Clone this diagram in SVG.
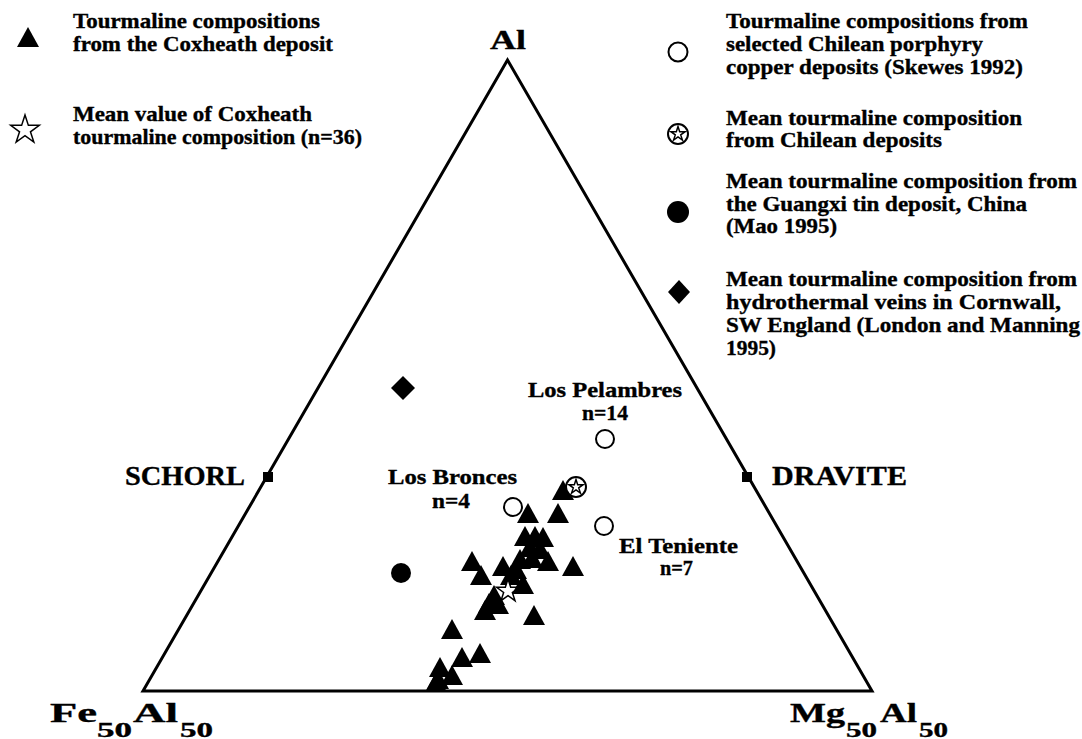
<svg xmlns="http://www.w3.org/2000/svg" xmlns:xlink="http://www.w3.org/1999/xlink" width="1082" height="739" viewBox="0 0 1082 739">
<style>
text{font-family:"Liberation Serif","Times New Roman",serif;font-weight:bold;fill:#000;stroke:#000;stroke-width:0.35}
.lg{font-size:21px}
.lb{font-size:21px}
.ax{font-size:28px}
.mn{font-size:27px}
.sb{font-size:20px}
.frame{fill:none;stroke:#000;stroke-width:3;stroke-linejoin:miter}
.open{fill:#fff;stroke:#000;stroke-width:2}
.solid{fill:#000}
.star{fill:#fff;stroke:#000;stroke-width:1.5;stroke-linejoin:miter}
</style>
<defs>
<path id="tri" d="M0,0 L11,20 L-11,20 Z" fill="#000"/>
<path id="star15" d="M0,-15 L3.37,-4.64 L14.27,-4.64 L5.45,1.77 L8.82,12.14 L0,5.73 L-8.82,12.14 L-5.45,1.77 L-14.27,-4.64 L-3.37,-4.64 Z"/>
<path id="star12" d="M0,-12 L2.69,-3.71 L11.41,-3.71 L4.36,1.42 L7.05,9.71 L0,4.58 L-7.05,9.71 L-4.36,1.42 L-11.41,-3.71 L-2.69,-3.71 Z"/>
<g id="starcircle">
<circle r="10" fill="#fff" stroke="#000" stroke-width="2"/>
<path d="M0,-7.5 L1.68,-2.32 L7.13,-2.32 L2.72,0.89 L4.41,6.07 L0,2.87 L-4.41,6.07 L-2.72,0.89 L-7.13,-2.32 L-1.68,-2.32 Z" fill="#fff" stroke="#000" stroke-width="1.5"/>
</g>
</defs>
<rect width="1082" height="739" fill="#fff"/>

<g id="frame">
<path class="frame" d="M507.5,60 L872,691 L143,691 Z"/>
<rect id="schorl-tick" x="263" y="472" width="10" height="10" fill="#000"/>
<rect id="dravite-tick" x="742" y="472" width="10" height="10" fill="#000"/>
</g>

<g id="axis-labels">
<text class="ax" x="490" y="49" textLength="36" lengthAdjust="spacingAndGlyphs">Al</text>
<text class="ax" x="125" y="485" textLength="120" lengthAdjust="spacingAndGlyphs">SCHORL</text>
<text class="ax" x="772" y="485" textLength="135" lengthAdjust="spacingAndGlyphs">DRAVITE</text>
<g id="fe-label">
<text class="mn" x="50" y="722" textLength="47" lengthAdjust="spacingAndGlyphs">Fe</text>
<text class="sb" x="97" y="737" textLength="35" lengthAdjust="spacingAndGlyphs">50</text>
<text class="mn" x="133" y="722" textLength="45" lengthAdjust="spacingAndGlyphs">Al</text>
<text class="sb" x="180" y="737" textLength="33" lengthAdjust="spacingAndGlyphs">50</text>
</g>
<g id="mg-label">
<text class="mn" x="790" y="722" textLength="55" lengthAdjust="spacingAndGlyphs">Mg</text>
<text class="sb" x="846" y="737" textLength="31" lengthAdjust="spacingAndGlyphs">50</text>
<text class="mn" x="880" y="722" textLength="37" lengthAdjust="spacingAndGlyphs">Al</text>
<text class="sb" x="919" y="737" textLength="29" lengthAdjust="spacingAndGlyphs">50</text>
</g>
</g>

<g id="deposit-labels">
<text class="lb" x="528" y="397" textLength="154" lengthAdjust="spacingAndGlyphs">Los Pelambres</text>
<text class="lb" x="582" y="420" textLength="46" lengthAdjust="spacingAndGlyphs">n=14</text>
<text class="lb" x="388" y="484" textLength="129" lengthAdjust="spacingAndGlyphs">Los Bronces</text>
<text class="lb" x="432" y="508" textLength="38" lengthAdjust="spacingAndGlyphs">n=4</text>
<text class="lb" x="619" y="553" textLength="119" lengthAdjust="spacingAndGlyphs">El Teniente</text>
<text class="lb" x="660" y="575" textLength="33" lengthAdjust="spacingAndGlyphs">n=7</text>
</g>

<g id="coxheath-points">
<use xlink:href="#tri" x="563" y="480"/>
<use xlink:href="#tri" x="528" y="503"/>
<use xlink:href="#tri" x="558" y="503"/>
<use xlink:href="#tri" x="525" y="526"/>
<use xlink:href="#tri" x="535" y="526"/>
<use xlink:href="#tri" x="543" y="527"/>
<use xlink:href="#tri" x="530" y="537"/>
<use xlink:href="#tri" x="540" y="539"/>
<use xlink:href="#tri" x="520" y="549"/>
<use xlink:href="#tri" x="532" y="548"/>
<use xlink:href="#tri" x="548" y="551"/>
<use xlink:href="#tri" x="573" y="556"/>
<use xlink:href="#tri" x="472" y="551"/>
<use xlink:href="#tri" x="481" y="565"/>
<use xlink:href="#tri" x="503" y="556"/>
<use xlink:href="#tri" x="511" y="565"/>
<use xlink:href="#tri" x="516" y="559"/>
<use xlink:href="#tri" x="494" y="585"/>
<use xlink:href="#tri" x="489" y="593"/>
<use xlink:href="#tri" x="485" y="600"/>
<use xlink:href="#tri" x="498" y="594"/>
<use xlink:href="#tri" x="534" y="605"/>
<use xlink:href="#tri" x="452" y="619"/>
<use xlink:href="#tri" x="462" y="647"/>
<use xlink:href="#tri" x="480" y="643"/>
<use xlink:href="#tri" x="440" y="657"/>
<use xlink:href="#tri" x="452" y="665"/>
<use xlink:href="#tri" x="438" y="669"/>
<use xlink:href="#tri" x="436" y="672"/>
<use xlink:href="#star12" class="star" x="508" y="591"/>
<use xlink:href="#tri" x="523" y="574"/>
</g>

<g id="chilean-points">
<circle class="open" cx="605" cy="439" r="9"/>
<circle class="open" cx="513" cy="507" r="9"/>
<circle class="open" cx="604" cy="526" r="9"/>
<use xlink:href="#starcircle" x="576" y="487"/>
</g>

<g id="other-points">
<circle class="solid" cx="401" cy="573" r="10"/>
<path class="solid" d="M403,376 L415,388 L403,400 L391,388 Z"/>
</g>

<g id="legend-coxheath">
<use xlink:href="#tri" x="28" y="27"/>
<text class="lg" x="73" y="28" textLength="247" lengthAdjust="spacingAndGlyphs">Tourmaline compositions</text>
<text class="lg" x="73" y="51" textLength="260" lengthAdjust="spacingAndGlyphs">from the Coxheath deposit</text>
</g>
<g id="legend-mean-coxheath">
<use xlink:href="#star15" class="star" x="25" y="130"/>
<text class="lg" x="73" y="121" textLength="239" lengthAdjust="spacingAndGlyphs">Mean value of Coxheath</text>
<text class="lg" x="73" y="144" textLength="289" lengthAdjust="spacingAndGlyphs">tourmaline composition (n=36)</text>
</g>
<g id="legend-chilean">
<circle class="open" cx="678" cy="52" r="9.5"/>
<text class="lg" x="726" y="28" textLength="302" lengthAdjust="spacingAndGlyphs">Tourmaline compositions from</text>
<text class="lg" x="726" y="51" textLength="257" lengthAdjust="spacingAndGlyphs">selected Chilean porphyry</text>
<text class="lg" x="726" y="74" textLength="297" lengthAdjust="spacingAndGlyphs">copper deposits (Skewes 1992)</text>
</g>
<g id="legend-chilean-mean">
<use xlink:href="#starcircle" x="678" y="134"/>
<text class="lg" x="726" y="125" textLength="296" lengthAdjust="spacingAndGlyphs">Mean tourmaline composition</text>
<text class="lg" x="726" y="147" textLength="216" lengthAdjust="spacingAndGlyphs">from Chilean deposits</text>
</g>
<g id="legend-guangxi">
<circle class="solid" cx="678" cy="212" r="11"/>
<text class="lg" x="726" y="188" textLength="351" lengthAdjust="spacingAndGlyphs">Mean tourmaline composition from</text>
<text class="lg" x="726" y="211" textLength="301" lengthAdjust="spacingAndGlyphs">the Guangxi tin deposit, China</text>
<text class="lg" x="726" y="233" textLength="111" lengthAdjust="spacingAndGlyphs">(Mao 1995)</text>
</g>
<g id="legend-cornwall">
<path class="solid" d="M679,280 L690,292 L679,304 L668,292 Z"/>
<text class="lg" x="726" y="286" textLength="351" lengthAdjust="spacingAndGlyphs">Mean tourmaline composition from</text>
<text class="lg" x="726" y="309" textLength="335" lengthAdjust="spacingAndGlyphs">hydrothermal veins in Cornwall,</text>
<text class="lg" x="726" y="332" textLength="354" lengthAdjust="spacingAndGlyphs">SW England (London and Manning</text>
<text class="lg" x="726" y="355" textLength="50" lengthAdjust="spacingAndGlyphs">1995)</text>
</g>
</svg>
